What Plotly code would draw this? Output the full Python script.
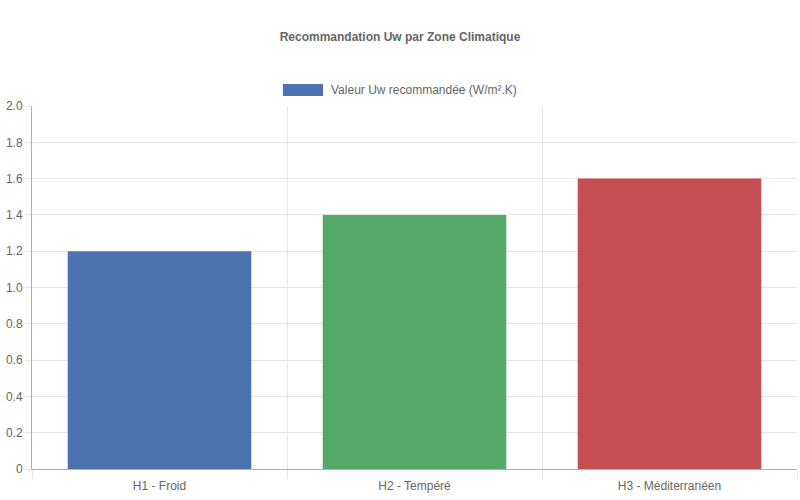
import plotly.graph_objects as go

# ========== données ==========
zones = ["H1 - Froid", "H2 - Tempéré", "H3 - Méditerranéen"]
uw_values = [1.2, 1.4, 1.6]
bar_colors = ["#4c72b0", "#55a868", "#c44e52"]
y_ticks = [0, 0.2, 0.4, 0.6, 0.8, 1.0, 1.2, 1.4, 1.6, 1.8, 2.0]
y_tick_labels = ["0", "0.2", "0.4", "0.6", "0.8", "1.0", "1.2", "1.4", "1.6", "1.8", "2.0"]

title_text = "Recommandation Uw par Zone Climatique"
legend_text = "Valeur Uw recommandée (W/m².K)"

grid_col = "#e5e5e5"
axis_col = "#b0b0b0"
txt_col = "#666666"
font_family = "Liberation Sans, Arial, sans-serif"

fig = go.Figure()
fig.add_trace(go.Bar(
    x=zones,
    y=uw_values,
    marker=dict(color=bar_colors, line=dict(width=0)),
    width=0.72,
    name=legend_text,
    showlegend=False,
    hoverinfo="x+y",
))

# légende façon Chart.js (boîte 40x12 + texte)
fig.add_shape(type="rect", xref="paper", yref="paper",
              x0=0.328, x1=0.3804, y0=1.0275, y1=1.0606,
              fillcolor=bar_colors[0], line=dict(width=0))
fig.add_annotation(xref="paper", yref="paper", x=0.388, y=1.044,
                   text=legend_text, showarrow=False,
                   xanchor="left", yanchor="middle",
                   font=dict(size=12, color=txt_col, family=font_family))

fig.update_layout(
    width=800, height=500,
    margin=dict(l=32, r=3, t=106, b=31),
    paper_bgcolor="white", plot_bgcolor="white",
    font=dict(family=font_family, size=12, color=txt_col),
    title=dict(text="<b>" + title_text + "</b>", x=0.5, xanchor="center",
               y=1 - 37 / 500, yanchor="middle",
               font=dict(size=12, color=txt_col, family=font_family)),
    bargap=0.28,
)

fig.update_xaxes(
    type="category",
    showgrid=True, gridcolor=grid_col, gridwidth=1,
    tickson="boundaries", ticks="outside", ticklen=9, tickcolor=grid_col,
    ticklabelstandoff=6,
    showline=True, linecolor=axis_col, linewidth=1,
    tickfont=dict(size=12, color=txt_col),
    mirror=False,
)
fig.update_yaxes(
    range=[0, 2.0],
    tickvals=y_ticks, ticktext=y_tick_labels,
    showgrid=True, gridcolor=grid_col, gridwidth=1,
    ticks="outside", ticklen=6, tickcolor=grid_col,
    showline=True, linecolor=axis_col, linewidth=1,
    zeroline=False, automargin=False,
    tickfont=dict(size=12, color=txt_col),
)

# pas de marge autour du graphique dans la page, pas de barre d'outils
fig.write_html("out.html", config={"displayModeBar": False},
               post_script="document.body.style.margin='0';")
